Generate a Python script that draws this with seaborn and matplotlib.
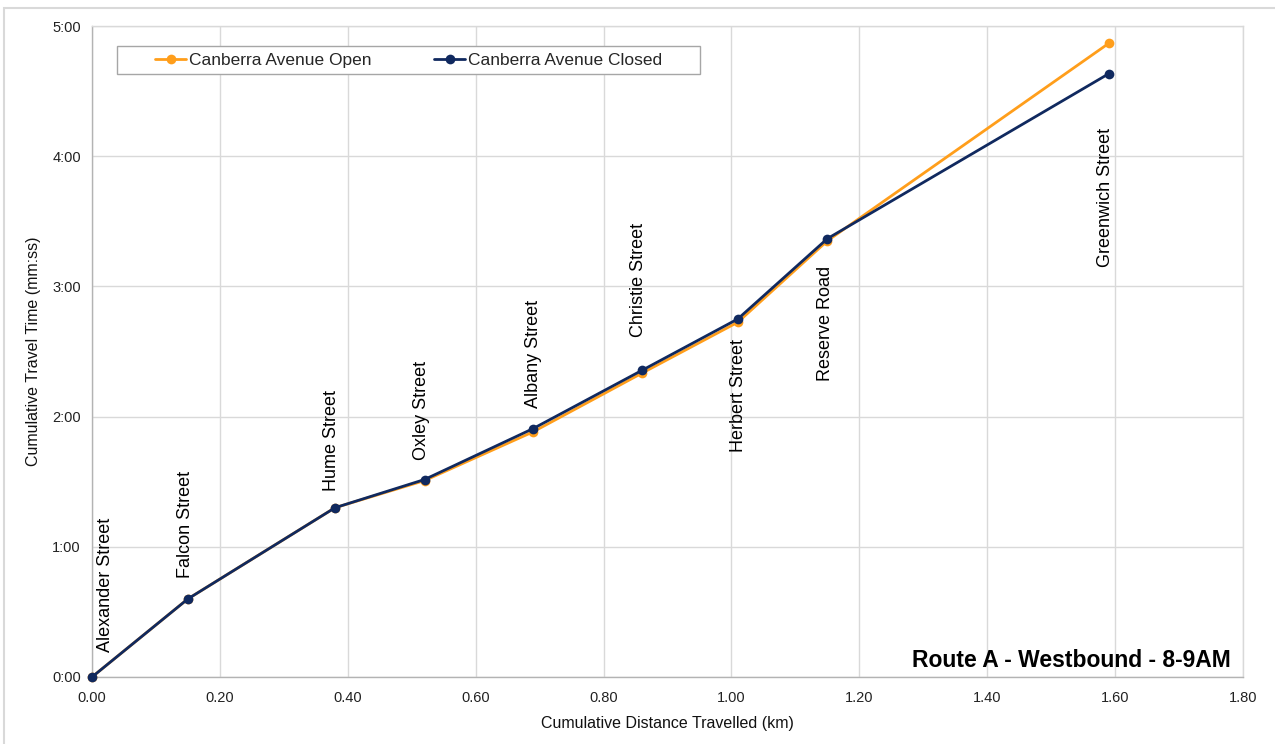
import pandas as pd
import matplotlib.pyplot as plt
import matplotlib.patches as patches
from matplotlib.ticker import FuncFormatter, MultipleLocator
import seaborn as sns

# 데이터: 누적 거리(km)와 누적 통행시간(초)
streets = ["Alexander Street", "Falcon Street", "Hume Street", "Oxley Street",
           "Albany Street", "Christie Street", "Herbert Street", "Reserve Road",
           "Greenwich Street"]
distance_km = [0.00, 0.15, 0.38, 0.52, 0.69, 0.86, 1.01, 1.15, 1.59]
time_open_s = [0, 36, 78, 90.5, 113, 140, 163.5, 201, 292]
time_closed_s = [0, 36, 78, 91, 114.5, 141.3, 165, 202, 278]
series_names = ["Canberra Avenue Open", "Canberra Avenue Closed"]

# 라벨 위치 (위/아래, 픽셀 오프셋)
label_side = ["above", "above", "above", "above", "above", "above", "below", "below", "below"]
label_gap = [25, 21, 17, 20, 21, 33, 17, 25, 54]
label_dx = [13, -2, -3, -3, 0, -3, 1, -2, -3]

orange = "#ff9e1b"
navy = "#10295f"
grid_col = "#d9d9d9"

sns.set_theme(style="whitegrid")
plt.rcParams["font.family"] = ["Liberation Sans", "DejaVu Sans"]

df_open = pd.DataFrame({"dist": distance_km, "time": time_open_s})
df_closed = pd.DataFrame({"dist": distance_km, "time": time_closed_s})

fig = plt.figure(figsize=(12.75, 7.44), dpi=100)
ax = fig.add_axes([92 / 1275, 67 / 744, 1151 / 1275, 651 / 744])

sns.lineplot(data=df_open, x="dist", y="time", ax=ax, color=orange, linewidth=2,
             marker="o", markersize=7, markeredgewidth=0, legend=False, zorder=3,
             clip_on=False)
sns.lineplot(data=df_closed, x="dist", y="time", ax=ax, color=navy, linewidth=2,
             marker="o", markersize=7, markeredgewidth=0, legend=False, zorder=4,
             clip_on=False)

ax.set_xlim(0, 1.8)
ax.set_ylim(0, 300)
ax.xaxis.set_major_locator(MultipleLocator(0.2))
ax.yaxis.set_major_locator(MultipleLocator(60))
ax.xaxis.set_major_formatter(FuncFormatter(lambda v, p: f"{v:.2f}"))
ax.yaxis.set_major_formatter(FuncFormatter(lambda v, p: f"{int(v) // 60}:{int(v) % 60:02d}"))

ax.grid(True, color=grid_col, linewidth=1)
for side in ["top", "right"]:
    ax.spines[side].set_color(grid_col)
for side in ["left", "bottom"]:
    ax.spines[side].set_color("#b3b3b3")
for sp in ax.spines.values():
    sp.set_linewidth(1)
ax.tick_params(axis="both", which="major", direction="out", length=4, width=1,
               color="#b3b3b3", labelsize=10.5, labelcolor="#222222", pad=4)
ax.tick_params(axis="x", pad=6)

ax.set_xlabel("Cumulative Distance Travelled (km)", fontsize=11.5, color="#111111", labelpad=8)
ax.set_ylabel("Cumulative Travel Time (mm:ss)", fontsize=11.5, color="#111111", labelpad=8)

# 교차로 이름 라벨
for name, x, yo, yc, side, gap, dx in zip(streets, distance_km, time_open_s, time_closed_s,
                                          label_side, label_gap, label_dx):
    y = max(yo, yc) if side == "above" else min(yo, yc)
    dy = gap if side == "above" else -gap
    ax.annotate(name, xy=(x, y), xytext=(dx, dy), textcoords="offset pixels",
                rotation=90, ha="center", va="bottom" if side == "above" else "top",
                fontsize=13, color="#000000", zorder=5, annotation_clip=False)

ax.text(0.9896, 0.015, "Route A - Westbound - 8-9AM", transform=ax.transAxes,
        ha="right", va="baseline", fontsize=16.5, fontweight="bold", color="#000000")

# 범례 (틀은 따로 그림)
box = patches.Rectangle((25 / 1151, 603 / 651), 583 / 1151, 28 / 651, transform=ax.transAxes,
                        facecolor="white", edgecolor="#a6a6a6", linewidth=1, zorder=6)
ax.add_patch(box)
leg = ax.legend(handles=ax.lines[:2], labels=series_names, loc="center",
                bbox_to_anchor=((25 + 583 / 2) / 1151, 617 / 651), ncol=2, frameon=False,
                fontsize=12.5, handlelength=1.8, handletextpad=0.15, columnspacing=3.6,
                borderpad=0.2)
leg.set_zorder(7)

# 바깥 테두리
fig.patches.append(patches.Rectangle((4 / 1275, -0.02), 1.0, 1.02 - 8 / 744,
                                     transform=fig.transFigure, fill=False,
                                     edgecolor="#d9d9d9", linewidth=1.5))

fig.savefig("out.png", dpi=100)
